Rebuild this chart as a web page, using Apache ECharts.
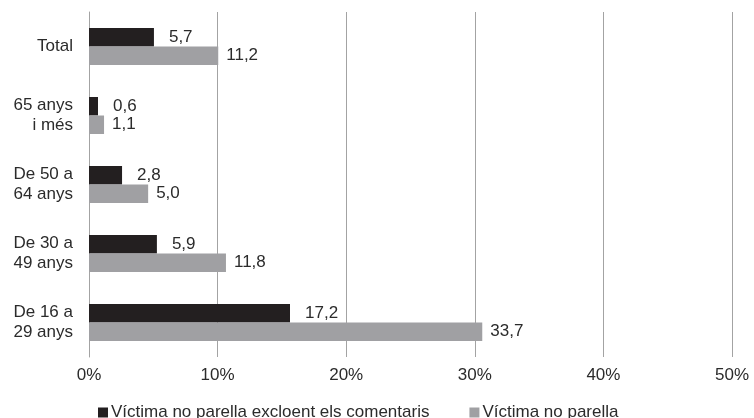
<!DOCTYPE html>
<html><head><meta charset="utf-8">
<script src="https://cdn.jsdelivr.net/npm/echarts@6/dist/echarts.min.js"></script>
<style>html,body{margin:0;padding:0;background:#fff}#c{width:754px;height:418px}</style>
</head><body><div id="c"></div>
<script>
const categories = ['Total', '65 anys\ni més', 'De 50 a\n64 anys', 'De 30 a\n49 anys', 'De 16 a\n29 anys'];
const seriesNames = ['Víctima no parella excloent els comentaris', 'Víctima no parella'];
// bar lengths as drawn in the picture
const darkValues = [5.05, 0.7, 2.57, 5.28, 15.63];
const greyValues = [10.05, 1.17, 4.6, 10.65, 30.58];
// value labels printed next to the bars
const darkLabels = ['5,7', '0,6', '2,8', '5,9', '17,2'];
const greyLabels = ['11,2', '1,1', '5,0', '11,8', '33,7'];
const xTicks = [0, 10, 20, 30, 40, 50];

const FONT = 'Liberation Sans';
const FS = 17;
const TXT = '#2b2b2b';
const chart = echarts.init(document.getElementById('c'));
function mk(vals, labs) {
  return vals.map((v, i) => ({ value: v, label: { formatter: labs[i] } }));
}
chart.setOption({
  animation: false,
  textStyle: { fontFamily: FONT },
  grid: { left: 89, right: 22, top: 12, bottom: 61 },
  xAxis: {
    type: 'value', min: xTicks[0], max: xTicks[xTicks.length - 1], interval: 10,
    axisLine: { show: false }, axisTick: { show: false },
    splitLine: { show: true, lineStyle: { color: '#a3a3a3', width: 1 } },
    axisLabel: { formatter: '{value}%', color: TXT, fontSize: FS, fontFamily: FONT, margin: 10 }
  },
  yAxis: {
    type: 'category', inverse: true, data: categories,
    axisLine: { show: true, lineStyle: { color: '#a3a3a3' } }, axisTick: { show: false },
    axisLabel: { color: TXT, fontSize: FS, fontFamily: FONT, margin: 16, lineHeight: 20, align: 'right' }
  },
  legend: {
    left: 93, top: 399, itemWidth: 10, itemHeight: 10, itemGap: 40,
    icon: 'rect',
    textStyle: { color: TXT, fontSize: FS, fontFamily: FONT, padding: [0, 0, 0, -2] },
    data: seriesNames
  },
  series: [
    { name: seriesNames[0], type: 'bar', data: mk(darkValues, darkLabels), barWidth: 18.5, barGap: '0%',
      itemStyle: { color: '#231f20' },
      label: { show: true, position: 'right', distance: 15, color: TXT, fontSize: FS, fontFamily: FONT } },
    { name: seriesNames[1], type: 'bar', data: mk(greyValues, greyLabels), barWidth: 18.5, barGap: '0%',
      itemStyle: { color: '#a0a0a3' },
      label: { show: true, position: 'right', distance: 8, color: TXT, fontSize: FS, fontFamily: FONT } }
  ]
});
</script></body></html>
